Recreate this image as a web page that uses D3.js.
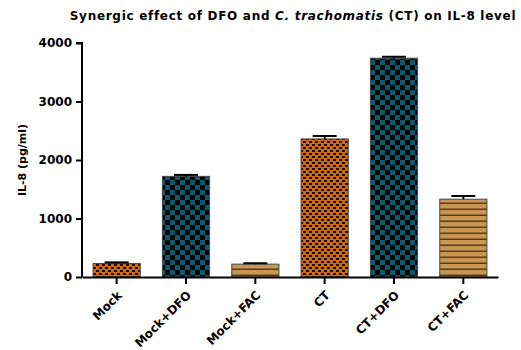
<!DOCTYPE html>
<html><head><meta charset="utf-8">
<script src="https://cdn.jsdelivr.net/npm/d3@7"></script>
<style>body{margin:0;background:#fff}svg{display:block}text{font-family:"DejaVu Sans",sans-serif;font-weight:bold}</style>
</head><body>
<script>
const categories = ["Mock","Mock+DFO","Mock+FAC","CT","CT+DFO","CT+FAC"];
const means = [230, 1720, 220, 2360, 3740, 1330];
const errors = [20, 25, 15, 50, 25, 55];
const patterns = ["orange","teal","tan","orange","teal","tan"];
const yTicks = [0,1000,2000,3000,4000];

const W=521,H=350;
const FF="DejaVu Sans, sans-serif";
const svg=d3.select("body").append("svg").attr("width",W).attr("height",H);
const defs=svg.append("defs");
// orange check
let p=defs.append("pattern").attr("id","orange").attr("patternUnits","userSpaceOnUse").attr("width",6).attr("height",6);
p.append("rect").attr("width",6).attr("height",6).attr("fill","#d06a10");
p.append("rect").attr("x",0).attr("y",0).attr("width",3).attr("height",2).attr("fill","#111");
p.append("rect").attr("x",3).attr("y",3).attr("width",3).attr("height",2).attr("fill","#111");
// teal check
p=defs.append("pattern").attr("id","teal").attr("patternUnits","userSpaceOnUse").attr("width",10).attr("height",10);
p.append("rect").attr("width",10).attr("height",10).attr("fill","#050505");
p.append("rect").attr("x",0).attr("y",0).attr("width",5).attr("height",5).attr("fill","#0e5a6c");
p.append("rect").attr("x",5).attr("y",5).attr("width",5).attr("height",5).attr("fill","#0e5a6c");
// tan stripes
p=defs.append("pattern").attr("id","tan").attr("patternUnits","userSpaceOnUse").attr("width",6).attr("height",6);
p.append("rect").attr("width",6).attr("height",6).attr("fill","#c99653");
p.append("rect").attr("y",4.5).attr("width",6).attr("height",1.5).attr("fill","#5a3d1e");

const x0=82,x1=498,yTop=43,yBot=277;
const x=d3.scaleBand().domain(categories).range([x0,x1]).padding(0);
const y=d3.scaleLinear().domain([0,4000]).range([yBot,yTop]);
const bw=x.bandwidth()*0.68;

// title
const t=svg.append("text").attr("x",293).attr("y",20).attr("text-anchor","middle").attr("font-size",12)
  .attr("letter-spacing",0.7).attr("font-family",FF).attr("font-weight","bold");
t.append("tspan").text("Synergic effect of DFO and ");
t.append("tspan").attr("font-style","italic").text("C. trachomatis");
t.append("tspan").text(" (CT) on IL-8 level");

// bars
const g=svg.append("g");
categories.forEach((c,i)=>{
  const cx=x(c)+x.bandwidth()/2;
  g.append("rect").attr("x",cx-bw/2).attr("y",y(means[i])).attr("width",bw).attr("height",y(0)-y(means[i]))
   .attr("fill",`url(#${patterns[i]})`).attr("stroke","#444").attr("stroke-width",1);
  g.append("line").attr("x1",cx).attr("x2",cx).attr("y1",y(means[i])).attr("y2",y(means[i]+errors[i])).attr("stroke","#000").attr("stroke-width",2);
  g.append("line").attr("x1",cx-12).attr("x2",cx+12).attr("y1",y(means[i]+errors[i])).attr("y2",y(means[i]+errors[i])).attr("stroke","#000").attr("stroke-width",2);
});

// y axis
const ya=svg.append("g").attr("transform",`translate(${x0},0)`)
  .call(d3.axisLeft(y).tickValues(yTicks).tickSize(6).tickPadding(4).tickFormat(d3.format("d")));
ya.attr("font-family",FF).attr("font-size",12);
ya.select(".domain").attr("stroke","#000").attr("stroke-width",2).attr("d",`M-6,${yTop}H0V${yBot}`);
ya.selectAll(".tick line").attr("stroke","#000").attr("stroke-width",2);
ya.selectAll(".tick text").attr("fill","#000").attr("font-weight","bold");

// x axis
const xa=svg.append("g").attr("transform",`translate(0,${yBot})`)
  .call(d3.axisBottom(x).tickSize(7).tickSizeOuter(0));
xa.attr("font-family",FF).attr("font-size",12);
xa.select(".domain").attr("stroke","#000").attr("stroke-width",2);
xa.selectAll(".tick line").attr("stroke","#000").attr("stroke-width",2);
xa.selectAll(".tick text").attr("fill","#000").attr("font-weight","bold")
  .attr("text-anchor","end").attr("dy",0).attr("y",0)
  .attr("transform","translate(6,19) rotate(-45)");

svg.append("text").attr("transform","translate(26,160) rotate(-90)").attr("text-anchor","middle")
  .attr("font-size",11).attr("font-family",FF).attr("font-weight","bold").text("IL-8 (pg/ml)");
</script>
</body></html>
